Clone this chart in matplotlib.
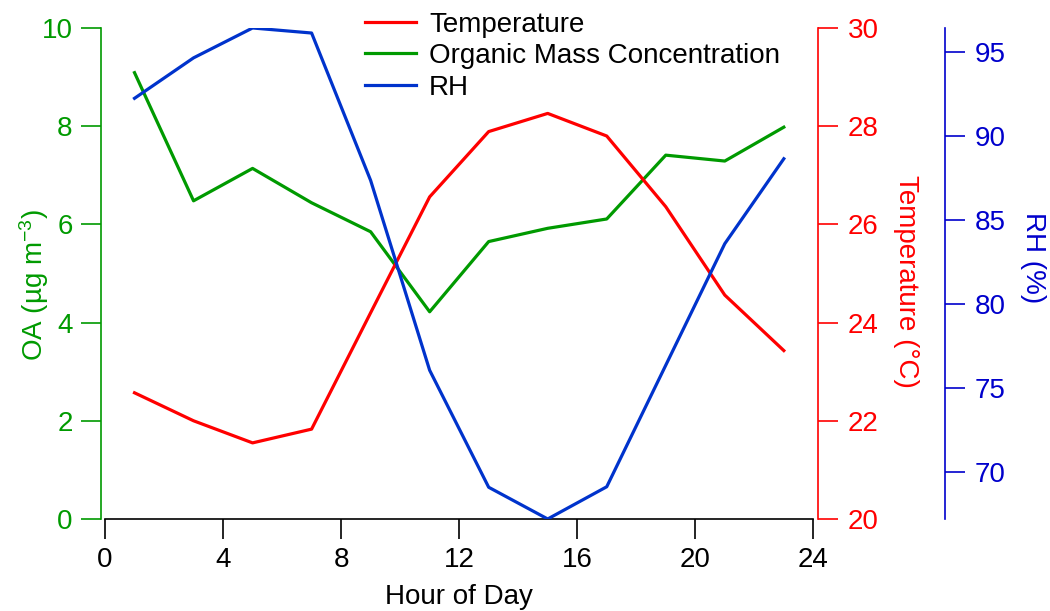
import numpy as np
import matplotlib
matplotlib.use("Agg")
import matplotlib.pyplot as plt

plt.rcParams["font.family"] = ["Liberation Sans", "DejaVu Sans"]
plt.rcParams["mathtext.default"] = "regular"

# diurnal averages, one value every two hours
hours = [1, 3, 5, 7, 9, 11, 13, 15, 17, 19, 21, 23]
oa = [9.09, 6.48, 7.14, 6.44, 5.85, 4.22, 5.65, 5.92, 6.11, 7.41, 7.29, 7.98]
temperature = [22.57, 22.00, 21.55, 21.83, 24.20, 26.56, 27.89, 28.26, 27.80, 26.36, 24.56, 23.43]
rh = [92.26, 94.67, 96.45, 96.15, 87.37, 76.06, 69.09, 67.20, 69.12, 76.36, 83.60, 88.66]

x_ticks = [0, 4, 8, 12, 16, 20, 24]
oa_ticks = [0, 2, 4, 6, 8, 10]
temp_ticks = [20, 22, 24, 26, 28, 30]
rh_ticks = [70, 75, 80, 85, 90, 95]

GREEN = "#009a00"
RED = "#ff0000"
BLUE_LINE = "#0033cc"
BLUE_AXIS = "#0000cc"
FS = 20
LW = 2.3

fig = plt.figure(figsize=(10.5, 6.11), dpi=100)
ax = fig.add_axes([0.1, 0.1506, 0.6746, 0.8036])
ax2 = ax.twinx()
ax3 = ax.twinx()

# left axis : organic aerosol
l_oa, = ax.plot(hours, oa, color=GREEN, lw=LW, label="Organic Mass Concentration")
ax.set_xlim(0, 24)
ax.set_ylim(0, 10)
ax.set_xticks(x_ticks)
ax.set_yticks(oa_ticks)
for s in ["top", "right"]:
    ax.spines[s].set_visible(False)
ax.spines["left"].set_position(("outward", 2.9))
ax.spines["left"].set_color(GREEN)
ax.spines["left"].set_linewidth(1.2)
ax.spines["bottom"].set_linewidth(1.2)
ax.tick_params(axis="x", direction="out", length=14.4, width=1.2, pad=6, labelsize=FS)
ax.tick_params(axis="y", direction="out", length=14.4, width=1.2, pad=6, labelsize=FS,
               colors=GREEN)
ax.set_xlabel("Hour of Day", fontsize=FS, labelpad=8)
ax.set_ylabel("OA (µg m$^{-3}$)", fontsize=FS, color=GREEN, va="center", ha="center")
ax.yaxis.set_label_coords(-0.1, 0.477)

# right axis : temperature
l_t, = ax2.plot(hours, temperature, color=RED, lw=LW, label="Temperature")
ax2.set_ylim(20, 30)
ax2.set_yticks(temp_ticks)
for s in ["top", "left", "bottom"]:
    ax2.spines[s].set_visible(False)
ax2.spines["right"].set_position(("outward", 3.2))
ax2.spines["right"].set_color(RED)
ax2.spines["right"].set_linewidth(1.2)
ax2.tick_params(axis="y", direction="out", length=14.4, width=1.2, pad=7, labelsize=FS,
                colors=RED)
ax2.set_ylabel("Temperature (°C)", fontsize=FS, color=RED, rotation=-90,
               va="center", ha="center")
ax2.yaxis.set_label_coords(1.131, 0.483)

# second right axis : relative humidity (autoscaled to the data)
l_rh, = ax3.plot(hours, rh, color=BLUE_LINE, lw=LW, label="RH")
ax3.set_ylim(min(rh), max(rh))
ax3.set_yticks(rh_ticks)
for s in ["top", "left", "bottom"]:
    ax3.spines[s].set_visible(False)
ax3.spines["right"].set_position(("outward", 95))
ax3.spines["right"].set_color(BLUE_AXIS)
ax3.spines["right"].set_linewidth(1.2)
ax3.tick_params(axis="y", direction="out", length=14.4, width=1.2, pad=7, labelsize=FS,
                colors=BLUE_AXIS)
ax3.set_ylabel("RH (%)", fontsize=FS, color=BLUE_AXIS, rotation=-90,
               va="center", ha="center")
ax3.yaxis.set_label_coords(1.31, 0.532)

ax3.legend(handles=[l_t, l_oa, l_rh], loc="upper center", bbox_to_anchor=(0.66, 1.056),
           frameon=False, fontsize=FS, handlelength=1.85, handletextpad=0.47,
           labelspacing=0.2, borderaxespad=0)

fig.savefig("out.png", dpi=100)
